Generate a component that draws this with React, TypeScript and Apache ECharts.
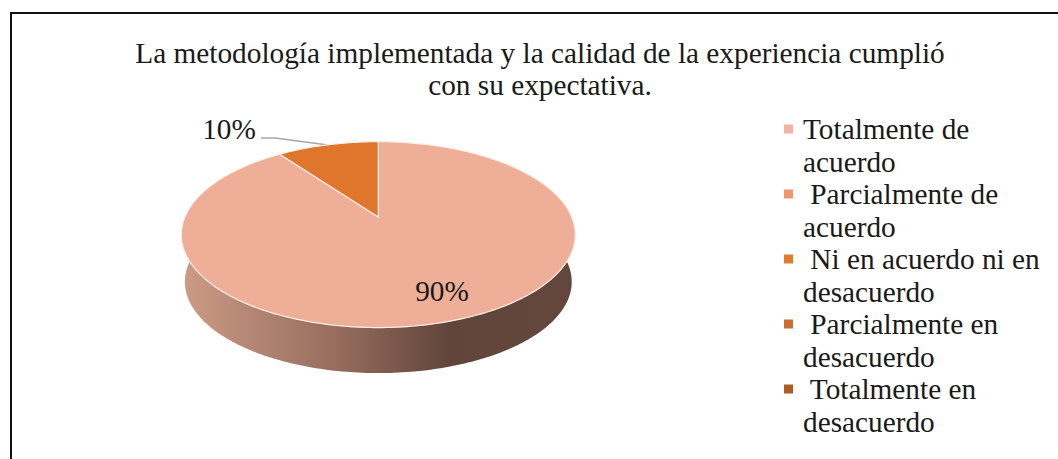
import React, { useEffect, useRef } from "react";
import * as echarts from "echarts";

const titleLines = [
  "La metodología implementada y la calidad de la experiencia cumplió",
  "con su expectativa.",
];
const categories = [
  "Totalmente de acuerdo",
  "Parcialmente de acuerdo",
  "Ni en acuerdo ni en desacuerdo",
  "Parcialmente en desacuerdo",
  "Totalmente en desacuerdo",
];
const legendLines = [
  "Totalmente de\nacuerdo",
  " Parcialmente de\nacuerdo",
  " Ni en acuerdo ni en\ndesacuerdo",
  " Parcialmente en\ndesacuerdo",
  " Totalmente en\ndesacuerdo",
];
const values = [90, 0, 10, 0, 0];
const legendColors = ["#F3B3A0", "#F2946D", "#E27A2C", "#C86F30", "#B05A24"];
const sliceColors = ["#EFAE97", "#F2946D", "#E0762B", "#C86F30", "#B05A24"];
const labelPositions: ([number, number] | null)[] = [[442, 291], null, [229, 129], null, null];

const FONT = "'Liberation Serif', 'Times New Roman', serif";
const TEXT = "#1a1a1a";
const FONT_SIZE = 29.3;

// Perspective projection of the pie's unit disc on to the page.
const CX = 378.3;
const APEX_Y = 217;
const RX = 193.4;
const B = 89.6;
const K = 0.1895;
const RIM_CY = 234.6;
const FLOOR_CY = 281.8;
const FLOOR_SCALE = 0.982;

const project = (deg: number): [number, number] => {
  const t = (deg * Math.PI) / 180;
  const u = Math.sin(t);
  const v = -Math.cos(t);
  const w = 1 - K * v;
  return [CX + (RX * u) / w, APEX_Y + (B * v) / w];
};
const projectFloor = (deg: number): [number, number] => {
  const [x, y] = project(deg);
  return [CX + FLOOR_SCALE * (x - CX), FLOOR_CY + FLOOR_SCALE * (y - RIM_CY)];
};
const sample = (a: number, b: number, f: (d: number) => [number, number]) => {
  const n = Math.max(2, Math.ceil(Math.abs(b - a)));
  const pts: [number, number][] = [];
  for (let i = 0; i <= n; i++) pts.push(f(a + ((b - a) * i) / n));
  return pts;
};

const FRONT_START = 79;
const FRONT_END = 281;
const total = values.reduce((s, v) => s + v, 0);

const makeRenderItem = (index: number) => (_params: any, api: any) => {
  const value = api.value(0) as number;
  if (!value) return { type: "group", children: [] };
  const before = values.slice(0, index).reduce((s, v) => s + v, 0);
  const start = (before / total) * 360;
  const end = start + (value / total) * 360;
  const children: any[] = [];
  const wa = Math.max(start, FRONT_START);
  const wb = Math.min(end, FRONT_END);
  if (wb > wa) {
    children.push({
      type: "polygon",
      shape: { points: [...sample(wa, wb, project), ...sample(wb, wa, projectFloor)] },
      style: {
        fill: new echarts.graphic.LinearGradient(
          183, 0, 573, 0,
          [
            { offset: 0, color: "#CC9B84" },
            { offset: 0.395, color: "#966D5E" },
            { offset: 0.68, color: "#61453A" },
            { offset: 1, color: "#63473C" },
          ],
          true
        ),
      },
    });
  }
  children.push({
    type: "polygon",
    shape: { points: [[CX, APEX_Y], ...sample(start, end, project)] },
    style: { fill: sliceColors[index], stroke: "#FBEFE9", lineWidth: 1.2 },
  });
  const pos = labelPositions[index];
  if (pos) {
    children.push({
      type: "text",
      z2: 10,
      style: {
        x: pos[0],
        y: pos[1],
        text: `${value}%`,
        fill: TEXT,
        fontFamily: FONT,
        fontSize: FONT_SIZE,
        align: "center",
        verticalAlign: "middle",
      },
    });
  }
  return { type: "group", children };
};

export default function App() {
  const ref = useRef<HTMLDivElement>(null);
  useEffect(() => {
    document.body.style.margin = "0";
    document.body.style.overflow = "hidden";
    const chart = echarts.init(ref.current!, undefined, { renderer: "svg" });
    chart.setOption({
      animation: false,
      backgroundColor: "#ffffff",
      title: {
        text: titleLines.join("\n"),
        left: 540,
        top: 37,
        textAlign: "center",
        padding: 0,
        textStyle: {
          fontFamily: FONT,
          fontSize: FONT_SIZE,
          fontWeight: "normal",
          color: TEXT,
          lineHeight: 32,
        },
      },
      legend: {
        orient: "vertical",
        left: 784,
        top: 113,
        padding: 0,
        itemGap: 0,
        itemWidth: 14,
        itemHeight: 65,
        selectedMode: false,
        icon: "path://M0,0h0v0z M0,11.5h9v9h-9z M14,65h0v0z",
        data: categories,
        formatter: (name: string) => legendLines[categories.indexOf(name)],
        textStyle: {
          fontFamily: FONT,
          fontSize: FONT_SIZE,
          color: TEXT,
          lineHeight: 32.5,
        },
      },
      graphic: [
        {
          type: "polyline",
          shape: { points: [[11, 459], [11, 13], [1058, 13]] },
          style: { fill: "none", stroke: "#111111", lineWidth: 2 },
          silent: true,
        },
        {
          type: "polyline",
          shape: { points: [[261, 138], [275, 138], [328, 145]] },
          style: { fill: "none", stroke: "#A6A6A6", lineWidth: 1.5 },
          silent: true,
        },
      ],
      series: categories.map((name, i) => ({
        type: "custom",
        name,
        coordinateSystem: "none",
        silent: true,
        itemStyle: { color: legendColors[i] },
        data: [[values[i]]],
        renderItem: makeRenderItem(i),
      })),
    });
    return () => chart.dispose();
  }, []);
  return <div ref={ref} style={{ width: 1058, height: 459 }} />;
}
